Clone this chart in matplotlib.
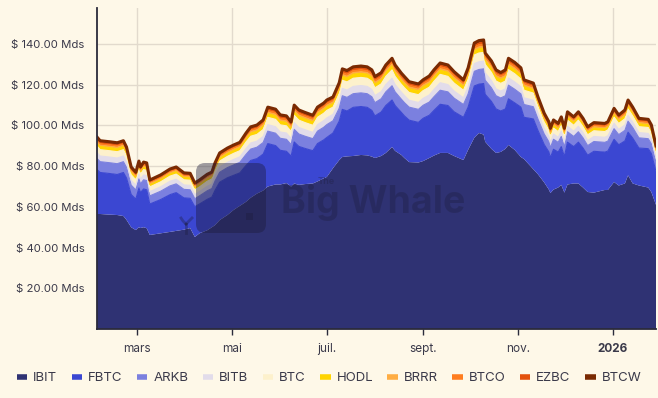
import matplotlib
matplotlib.use("Agg")
import matplotlib.pyplot as plt
from matplotlib.patches import FancyBboxPatch, Rectangle
from matplotlib.lines import Line2D
from matplotlib.transforms import IdentityTransform
import numpy as np
import pandas as pd

# Valeur des ETF bitcoin spot US (milliards $)
dates = pd.to_datetime([
    "2025-02-03", "2025-02-05", "2025-02-11", "2025-02-16", "2025-02-20", "2025-02-22", "2025-02-25", "2025-02-28",
    "2025-03-02", "2025-03-03", "2025-03-05", "2025-03-07", "2025-03-09", "2025-03-16", "2025-03-22", "2025-03-26", "2025-03-31",
    "2025-04-04", "2025-04-07", "2025-04-10", "2025-04-15", "2025-04-18", "2025-04-20", "2025-04-23", "2025-04-28",
    "2025-05-02", "2025-05-06", "2025-05-10", "2025-05-13", "2025-05-17", "2025-05-21", "2025-05-24", "2025-05-29",
    "2025-06-01", "2025-06-05", "2025-06-08", "2025-06-10", "2025-06-13", "2025-06-17", "2025-06-22", "2025-06-25", "2025-06-29",
    "2025-07-01", "2025-07-05", "2025-07-09", "2025-07-11", "2025-07-14", "2025-07-18", "2025-07-23", "2025-07-27", "2025-07-30",
    "2025-08-01", "2025-08-05", "2025-08-08", "2025-08-12", "2025-08-14", "2025-08-18", "2025-08-20", "2025-08-23", "2025-08-29",
    "2025-09-01", "2025-09-05", "2025-09-08", "2025-09-12", "2025-09-17", "2025-09-21", "2025-09-27", "2025-09-30",
    "2025-10-04", "2025-10-07", "2025-10-10", "2025-10-11", "2025-10-15", "2025-10-18", "2025-10-21", "2025-10-24", "2025-10-26", "2025-10-30",
    "2025-11-03", "2025-11-05", "2025-11-11", "2025-11-14", "2025-11-18", "2025-11-21", "2025-11-22", "2025-11-24", "2025-11-27", "2025-11-29",
    "2025-12-01", "2025-12-03", "2025-12-07", "2025-12-10", "2025-12-13", "2025-12-16", "2025-12-20", "2025-12-27", "2025-12-29",
    "2026-01-02", "2026-01-05", "2026-01-09", "2026-01-11", "2026-01-14", "2026-01-18", "2026-01-24", "2026-01-26", "2026-01-29",
])

ibit = [56.5, 56.5, 56.2, 56.0, 55.5, 53.6, 50.0, 48.6,
        50.0, 49.6, 50.0, 49.5, 46.2, 47.0, 47.7, 48.2, 48.8,
        49.6, 45.2, 47.0, 48.5, 50.0, 51.0, 53.5, 56.0,
        58.5, 60.5, 62.5, 64.5, 66.5, 68.0, 70.0, 71.0,
        71.0, 71.7, 70.0, 71.5, 70.8, 71.2, 71.5, 72.5, 74.0,
        74.7, 79.0, 83.0, 84.5, 84.8, 85.0, 85.5, 85.3, 84.7,
        84.0, 85.0, 86.5, 89.4, 87.5, 85.5, 84.0, 82.0, 81.8,
        82.5, 84.0, 85.2, 86.5, 86.5, 85.0, 83.0, 88.0,
        94.0, 96.3, 95.5, 92.0, 88.5, 86.5, 87.0, 88.5, 90.4, 88.0,
        84.5, 83.5, 78.5, 76.0, 72.0, 68.5, 66.8, 68.5, 69.5, 70.8,
        67.0, 71.0, 71.5, 71.5, 69.5, 67.3, 67.0, 68.3, 68.3,
        72.2, 70.5, 71.5, 75.5, 71.5, 70.5, 69.5, 67.3, 61.0]

fbtc = [21.9, 20.4, 20.2, 19.9, 21.4, 20.6, 16.1, 15.2,
        19.3, 17.4, 18.8, 18.9, 15.2, 16.6, 18.3, 18.8, 15.6,
        14.6, 14.9, 14.4, 15.2, 14.8, 17.1, 18.6, 18.3,
        17.0, 16.2, 17.9, 18.3, 17.2, 17.9, 21.1, 19.1,
        16.8, 15.6, 14.9, 20.4, 18.9, 17.5, 16.1, 18.6, 18.9,
        19.4, 17.3, 19.1, 23.4, 22.3, 23.9, 23.8, 23.6, 22.7,
        20.7, 21.6, 23.3, 23.1, 22.3, 20.9, 20.7, 20.6, 19.7,
        21.0, 21.0, 22.2, 23.9, 23.3, 21.7, 21.0, 21.0,
        25.4, 24.0, 25.1, 23.3, 23.3, 21.6, 20.1, 19.6, 22.7, 23.1,
        24.5, 20.5, 24.7, 21.5, 18.6, 18.5, 17.4, 19.8, 17.4, 18.8,
        17.7, 20.8, 18.1, 20.3, 19.4, 18.1, 20.3, 18.6, 19.1,
        21.0, 20.0, 20.9, 21.2, 22.3, 18.4, 19.1, 18.9, 16.4]

arkb = [5.4, 5.3, 5.3, 5.3, 5.3, 5.2, 4.6, 4.5,
        4.5, 4.3, 4.5, 4.5, 4.0, 4.1, 4.3, 4.3, 4.2,
        4.2, 3.9, 4.0, 4.2, 4.2, 4.6, 4.9, 5.0,
        5.1, 5.2, 5.4, 5.6, 5.6, 5.7, 6.1, 6.1,
        5.9, 5.9, 5.7, 6.2, 6.1, 6.0, 5.9, 6.1, 6.2,
        6.3, 6.0, 6.4, 6.7, 6.7, 6.7, 6.7, 6.7, 6.7,
        6.5, 6.5, 6.7, 7.0, 6.7, 6.5, 6.5, 6.4, 6.4,
        6.4, 6.5, 6.7, 6.9, 6.7, 6.7, 6.3, 6.5,
        7.2, 7.2, 7.2, 6.9, 6.7, 6.5, 6.4, 6.5, 6.7, 6.7,
        6.5, 6.3, 6.0, 5.6, 5.2, 5.0, 4.9, 4.9, 4.8, 5.0,
        4.7, 5.1, 5.0, 5.1, 5.0, 4.7, 4.8, 4.8, 4.9,
        5.2, 5.0, 5.2, 5.4, 5.2, 5.0, 4.9, 4.8, 4.3]

bitb = [2.9, 2.8, 2.8, 2.8, 2.8, 2.7, 2.4, 2.4,
        2.4, 2.3, 2.4, 2.4, 2.1, 2.2, 2.3, 2.3, 2.2,
        2.2, 2.1, 2.1, 2.2, 2.2, 2.4, 2.6, 2.6,
        2.7, 2.7, 2.9, 3.0, 3.0, 3.0, 3.2, 3.2,
        3.1, 3.1, 3.0, 3.3, 3.2, 3.2, 3.1, 3.2, 3.3,
        3.3, 3.2, 3.4, 3.6, 3.6, 3.6, 3.6, 3.6, 3.6,
        3.5, 3.5, 3.6, 3.7, 3.6, 3.5, 3.5, 3.4, 3.4,
        3.4, 3.5, 3.6, 3.7, 3.6, 3.5, 3.3, 3.5,
        3.8, 3.8, 3.8, 3.7, 3.6, 3.4, 3.4, 3.4, 3.6, 3.6,
        3.5, 3.3, 3.2, 3.0, 2.8, 2.7, 2.6, 2.6, 2.5, 2.6,
        2.5, 2.7, 2.6, 2.7, 2.6, 2.5, 2.5, 2.5, 2.6,
        2.7, 2.6, 2.7, 2.8, 2.7, 2.6, 2.6, 2.5, 2.3]

btc = [3.2, 3.1, 3.1, 3.1, 3.1, 3.0, 2.7, 2.6,
       2.6, 2.5, 2.6, 2.6, 2.3, 2.4, 2.5, 2.5, 2.5,
       2.5, 2.3, 2.3, 2.5, 2.5, 2.7, 2.9, 2.9,
       3.0, 3.0, 3.2, 3.3, 3.3, 3.4, 3.6, 3.6,
       3.5, 3.5, 3.4, 3.6, 3.6, 3.5, 3.5, 3.6, 3.6,
       3.7, 3.5, 3.8, 4.0, 4.0, 4.0, 4.0, 4.0, 4.0,
       3.8, 3.8, 4.0, 4.1, 4.0, 3.8, 3.8, 3.8, 3.8,
       3.8, 3.8, 4.0, 4.1, 4.0, 3.9, 3.7, 3.8,
       4.2, 4.3, 4.3, 4.1, 4.0, 3.8, 3.8, 3.8, 4.0, 4.0,
       3.8, 3.7, 3.5, 3.3, 3.1, 3.0, 2.9, 2.9, 2.8, 2.9,
       2.8, 3.0, 2.9, 3.0, 2.9, 2.8, 2.8, 2.8, 2.9,
       3.0, 2.9, 3.0, 3.2, 3.0, 2.9, 2.9, 2.8, 2.5]

hodl = [1.6, 1.6, 1.6, 1.6, 1.6, 1.5, 1.4, 1.3,
        1.3, 1.3, 1.3, 1.3, 1.2, 1.2, 1.3, 1.3, 1.2,
        1.2, 1.1, 1.2, 1.2, 1.2, 1.4, 1.4, 1.5,
        1.5, 1.5, 1.6, 1.6, 1.6, 1.7, 1.8, 1.8,
        1.7, 1.7, 1.7, 1.8, 1.8, 1.8, 1.7, 1.8, 1.8,
        1.9, 1.8, 1.9, 2.0, 2.0, 2.0, 2.0, 2.0, 2.0,
        1.9, 1.9, 2.0, 2.1, 2.0, 1.9, 1.9, 1.9, 1.9,
        1.9, 1.9, 2.0, 2.0, 2.0, 2.0, 1.9, 1.9,
        2.1, 2.1, 2.1, 2.0, 2.0, 1.9, 1.9, 1.9, 2.0, 2.0,
        1.9, 1.9, 1.7, 1.6, 1.5, 1.5, 1.4, 1.4, 1.4, 1.5,
        1.4, 1.5, 1.5, 1.5, 1.5, 1.4, 1.4, 1.4, 1.4,
        1.5, 1.5, 1.5, 1.6, 1.5, 1.5, 1.4, 1.4, 1.3]

brrr = [0.6, 0.6, 0.6, 0.6, 0.6, 0.6, 0.5, 0.5,
        0.5, 0.5, 0.5, 0.5, 0.5, 0.5, 0.5, 0.5, 0.5,
        0.5, 0.5, 0.5, 0.5, 0.5, 0.5, 0.6, 0.6,
        0.6, 0.6, 0.6, 0.7, 0.7, 0.7, 0.7, 0.7,
        0.7, 0.7, 0.7, 0.7, 0.7, 0.7, 0.7, 0.7, 0.7,
        0.7, 0.7, 0.8, 0.8, 0.8, 0.8, 0.8, 0.8, 0.8,
        0.8, 0.8, 0.8, 0.8, 0.8, 0.8, 0.8, 0.8, 0.8,
        0.8, 0.8, 0.8, 0.8, 0.8, 0.8, 0.7, 0.8,
        0.8, 0.9, 0.9, 0.8, 0.8, 0.8, 0.8, 0.8, 0.8, 0.8,
        0.8, 0.7, 0.7, 0.7, 0.6, 0.6, 0.6, 0.6, 0.6, 0.6,
        0.6, 0.6, 0.6, 0.6, 0.6, 0.6, 0.6, 0.6, 0.6,
        0.6, 0.6, 0.6, 0.6, 0.6, 0.6, 0.6, 0.6, 0.5]

btco = [0.8, 0.8, 0.8, 0.8, 0.8, 0.8, 0.7, 0.7,
        0.7, 0.6, 0.7, 0.7, 0.6, 0.6, 0.6, 0.6, 0.6,
        0.6, 0.6, 0.6, 0.6, 0.6, 0.7, 0.7, 0.7,
        0.7, 0.7, 0.8, 0.8, 0.8, 0.8, 0.9, 0.9,
        0.9, 0.9, 0.8, 0.9, 0.9, 0.9, 0.9, 0.9, 0.9,
        0.9, 0.9, 0.9, 1.0, 1.0, 1.0, 1.0, 1.0, 1.0,
        1.0, 1.0, 1.0, 1.0, 1.0, 1.0, 1.0, 0.9, 0.9,
        0.9, 1.0, 1.0, 1.0, 1.0, 1.0, 0.9, 1.0,
        1.1, 1.1, 1.1, 1.0, 1.0, 1.0, 0.9, 1.0, 1.0, 1.0,
        1.0, 0.9, 0.9, 0.8, 0.8, 0.7, 0.7, 0.7, 0.7, 0.7,
        0.7, 0.7, 0.7, 0.7, 0.7, 0.7, 0.7, 0.7, 0.7,
        0.8, 0.7, 0.8, 0.8, 0.8, 0.7, 0.7, 0.7, 0.6]

ezbc = [0.6, 0.6, 0.6, 0.6, 0.6, 0.6, 0.5, 0.5,
        0.5, 0.5, 0.5, 0.5, 0.5, 0.5, 0.5, 0.5, 0.5,
        0.5, 0.5, 0.5, 0.5, 0.5, 0.5, 0.6, 0.6,
        0.6, 0.6, 0.6, 0.7, 0.7, 0.7, 0.7, 0.7,
        0.7, 0.7, 0.7, 0.7, 0.7, 0.7, 0.7, 0.7, 0.7,
        0.7, 0.7, 0.8, 0.8, 0.8, 0.8, 0.8, 0.8, 0.8,
        0.8, 0.8, 0.8, 0.8, 0.8, 0.8, 0.8, 0.8, 0.8,
        0.8, 0.8, 0.8, 0.8, 0.8, 0.8, 0.7, 0.8,
        0.8, 0.9, 0.9, 0.8, 0.8, 0.8, 0.8, 0.8, 0.8, 0.8,
        0.8, 0.7, 0.7, 0.7, 0.6, 0.6, 0.6, 0.6, 0.6, 0.6,
        0.5, 0.6, 0.6, 0.6, 0.6, 0.5, 0.6, 0.6, 0.6,
        0.6, 0.6, 0.6, 0.6, 0.6, 0.6, 0.6, 0.6, 0.5]

btcw = [0.8, 0.8, 0.8, 0.8, 0.8, 0.8, 0.7, 0.7,
        0.7, 0.6, 0.7, 0.7, 0.6, 0.6, 0.6, 0.6, 0.6,
        0.6, 0.6, 0.6, 0.6, 0.6, 0.7, 0.7, 0.7,
        0.7, 0.7, 0.8, 0.8, 0.8, 0.8, 0.9, 0.9,
        0.9, 0.9, 0.8, 0.9, 0.9, 0.9, 0.9, 0.9, 0.9,
        0.9, 0.9, 0.9, 1.0, 1.0, 1.0, 1.0, 1.0, 1.0,
        1.0, 1.0, 1.0, 1.0, 1.0, 1.0, 1.0, 0.9, 0.9,
        0.9, 1.0, 1.0, 1.0, 1.0, 1.0, 0.9, 1.0,
        1.1, 1.1, 1.1, 1.0, 1.0, 1.0, 0.9, 1.0, 1.0, 1.0,
        1.0, 0.9, 0.9, 0.8, 0.8, 0.7, 0.7, 0.7, 0.7, 0.7,
        0.7, 0.7, 0.7, 0.7, 0.7, 0.7, 0.7, 0.7, 0.7,
        0.8, 0.7, 0.8, 0.8, 0.8, 0.7, 0.7, 0.7, 0.6]

names = ["IBIT", "FBTC", "ARKB", "BITB", "BTC", "HODL", "BRRR", "BTCO", "EZBC", "BTCW"]
colors = ["#2f3273", "#3b47d2", "#7b80df", "#e2dcea", "#fdf1cc",
          "#ffd400", "#ffad42", "#ff7d1f", "#e4520d", "#7a2a02"]

tick_dates = pd.to_datetime(["2025-03-01", "2025-05-01", "2025-07-01",
                             "2025-09-01", "2025-11-01", "2026-01-01"])
tick_labels = ["mars", "mai", "juil.", "sept.", "nov.", "2026"]
y_ticks = [20, 40, 60, 80, 100, 120, 140]

bg = "#fef8e8"
text_col = "#3b3a4a"
dark = "#2b2b3b"

plt.rcParams['font.family'] = ['Inter', 'DejaVu Sans']

fig = plt.figure(figsize=(6.58, 3.98), dpi=100)
fig.patch.set_facecolor(bg)
ax = fig.add_axes([97 / 658, 1 - 329 / 398, (656 - 97) / 658, (329 - 8) / 398])
ax.set_facecolor(bg)
ax.set_axisbelow(True)

layers = np.vstack([ibit, fbtc, arkb, bitb, btc, hodl, brrr, btco, ezbc, btcw])
ax.stackplot(dates, layers, colors=colors, linewidth=0)
tops = np.cumsum(layers, axis=0)
for i in range(1, len(names)):
    ax.plot(dates, tops[i], color=colors[i], lw=0.8)
ax.plot(dates, tops[-1], color=colors[-1], lw=2.2, solid_joinstyle='round')

ax.set_xlim(dates[0], dates[-1])
ax.set_ylim(0, 157.7)
ax.set_yticks(y_ticks)
ax.set_yticklabels([f"$ {v:.2f} Mds" for v in y_ticks])
ax.set_xticks(tick_dates)
ax.set_xticklabels(tick_labels)
ax.get_xticklabels()[-1].set_fontweight('bold')
ax.get_xticklabels()[-1].set_color("#23222e")

ax.grid(True, color="#e2dacd", lw=1)
ax.tick_params(axis='y', length=0, pad=9, labelsize=8.2, labelcolor=text_col)
ax.tick_params(axis='x', length=4, width=1, color=dark, pad=6, labelsize=8.5, labelcolor=text_col)
for s in ["top", "right"]:
    ax.spines[s].set_visible(False)
for s in ["left", "bottom"]:
    ax.spines[s].set_color(dark)
    ax.spines[s].set_linewidth(1.3)

# filigrane "The Big Whale" (coordonnées pixels)
ident = IdentityTransform()
wm = "#1c1c3a"
fig.add_artist(FancyBboxPatch((196, 398 - 233), 70, 70, boxstyle="round,pad=0,rounding_size=9",
                              transform=ident, facecolor=wm, edgecolor="none", alpha=0.42))
fig.add_artist(Rectangle((246, 398 - 220), 7, 7, transform=ident, facecolor=wm,
                         edgecolor="none", alpha=0.35))
fig.add_artist(Line2D([186, 186], [398 - 233, 398 - 224], transform=ident, color=wm, lw=2, alpha=0.35))
fig.add_artist(Line2D([186, 183, 181], [398 - 224, 398 - 221, 398 - 218], transform=ident, color=wm, lw=2, alpha=0.35))
fig.add_artist(Line2D([186, 189, 192], [398 - 224, 398 - 221, 398 - 218], transform=ident, color=wm, lw=2, alpha=0.35))
fig.text(281, 398 - 213, "Big Whale", transform=ident, fontsize=27, fontweight='bold',
         color=wm, alpha=0.32, ha='left', va='baseline')
fig.text(318, 398 - 184, "The", transform=ident, fontsize=6.5, fontweight='bold',
         color=wm, alpha=0.32, ha='left', va='baseline')

handles = [Line2D([0], [0], color=c, lw=4, solid_capstyle='butt') for c in colors]
leg = fig.legend(handles, names, loc='center', bbox_to_anchor=(0.5, 1 - 378 / 398), ncol=10,
                 frameon=False, fontsize=9.5, handlelength=0.8, handletextpad=0.45,
                 columnspacing=1.08)
for t in leg.get_texts():
    t.set_color(text_col)

fig.savefig("out.png", dpi=100, facecolor=bg)
